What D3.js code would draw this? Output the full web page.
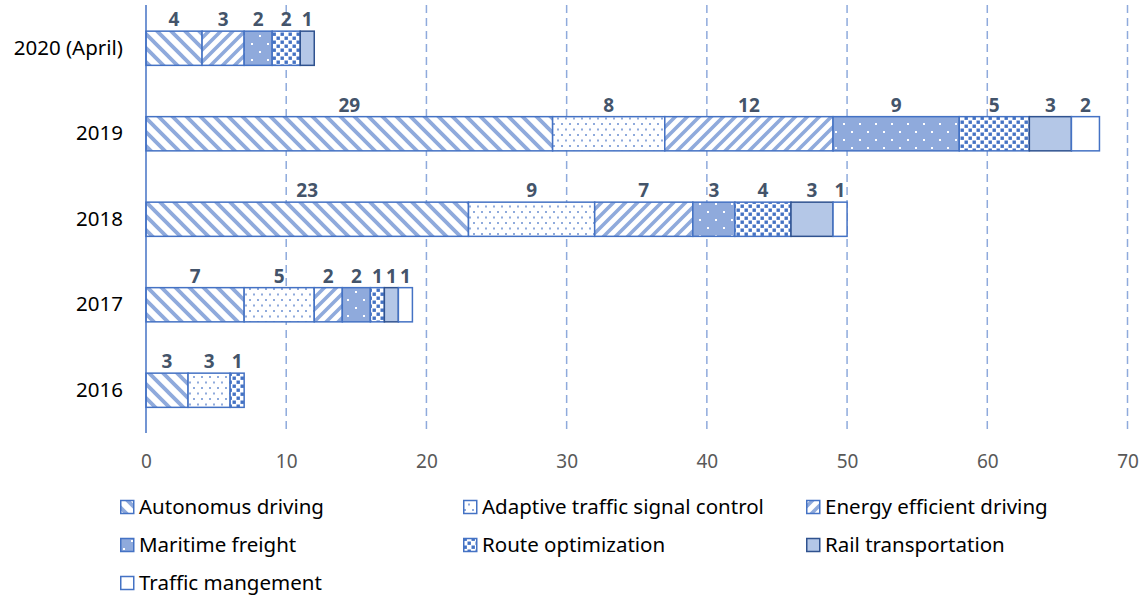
<!DOCTYPE html>
<html>
<head>
<meta charset="utf-8">
<script src="https://cdn.jsdelivr.net/npm/d3@7"></script>
<style>
  body { margin: 0; background: #fff; }
  svg { display: block; font-family: "Noto Sans", sans-serif; }
</style>
</head>
<body>
<svg id="chart" width="1145" height="598"></svg>
<script>
// data
var years = ["2020 (April)", "2019", "2018", "2017", "2016"];
var seriesNames = ["Autonomus driving", "Adaptive traffic signal control", "Energy efficient driving",
  "Maritime freight", "Route optimization", "Rail transportation", "Traffic mangement"];
var autonomus = [4, 29, 23, 7, 3];
var adaptive = [0, 8, 9, 5, 3];
var energy = [3, 12, 7, 2, 0];
var maritime = [2, 9, 3, 2, 0];
var route = [2, 5, 4, 1, 1];
var rail = [1, 3, 3, 1, 0];
var traffic = [0, 2, 1, 1, 0];
var xTicks = [0, 10, 20, 30, 40, 50, 60, 70];

var allSeries = [autonomus, adaptive, energy, maritime, route, rail, traffic];
var keys = ["s0", "s1", "s2", "s3", "s4", "s5", "s6"];

var rows = years.map(function(y, i) {
  var r = { year: y };
  keys.forEach(function(k, j) { r[k] = allSeries[j][i]; });
  return r;
});

var blue = '#4472C4';
var lightBlue = '#8FAADC';
var svg = d3.select('#chart');

// patterns
var defs = svg.append('defs');

var p0 = defs.append('pattern').attr('id', 'pat0').attr('patternUnits', 'userSpaceOnUse')
  .attr('width', 14).attr('height', 14);
p0.append('rect').attr('width', 14).attr('height', 14).attr('fill', '#fff');
p0.append('path').attr('d', 'M-3.5,-3.5L17.5,17.5M-3.5,10.5L3.5,17.5M10.5,-3.5L17.5,3.5')
  .attr('stroke', lightBlue).attr('stroke-width', 3.8);

var p1 = defs.append('pattern').attr('id', 'pat1').attr('patternUnits', 'userSpaceOnUse')
  .attr('width', 8).attr('height', 11);
p1.append('rect').attr('width', 8).attr('height', 11).attr('fill', '#fff');
p1.append('rect').attr('x', 1).attr('y', 2).attr('width', 2).attr('height', 2).attr('fill', lightBlue);
p1.append('rect').attr('x', 5).attr('y', 7.5).attr('width', 2).attr('height', 2).attr('fill', lightBlue);

var p2 = defs.append('pattern').attr('id', 'pat2').attr('patternUnits', 'userSpaceOnUse')
  .attr('width', 12).attr('height', 12);
p2.append('rect').attr('width', 12).attr('height', 12).attr('fill', '#fff');
p2.append('path').attr('d', 'M-3,15L15,-3M-3,3L3,-3M9,15L15,9')
  .attr('stroke', lightBlue).attr('stroke-width', 3.6);

var p3 = defs.append('pattern').attr('id', 'pat3').attr('patternUnits', 'userSpaceOnUse')
  .attr('width', 16).attr('height', 16);
p3.append('rect').attr('width', 16).attr('height', 16).attr('fill', lightBlue);
p3.append('rect').attr('x', 3).attr('y', 3).attr('width', 2).attr('height', 2).attr('fill', '#fff');
p3.append('rect').attr('x', 11).attr('y', 11).attr('width', 2).attr('height', 2).attr('fill', '#fff');

var p4 = defs.append('pattern').attr('id', 'pat4').attr('patternUnits', 'userSpaceOnUse')
  .attr('width', 8).attr('height', 8);
p4.append('rect').attr('width', 8).attr('height', 8).attr('fill', '#fff');
p4.append('rect').attr('x', 0.5).attr('y', 0.5).attr('width', 3.4).attr('height', 3.4).attr('fill', blue);
p4.append('rect').attr('x', 4.5).attr('y', 4.5).attr('width', 3.4).attr('height', 3.4).attr('fill', blue);

var fills = ['url(#pat0)', 'url(#pat1)', 'url(#pat2)', 'url(#pat3)', 'url(#pat4)', '#B4C7E7', '#fff'];
var strokes = [blue, blue, blue, blue, blue, '#2F528F', blue];

// scales
var x = d3.scaleLinear().domain([0, 70]).range([146, 1127.5]);
var y = d3.scaleBand().domain(years).range([5.5, 433]).paddingInner(0.6).paddingOuter(0.3);

// gridlines
svg.append('g').selectAll('line')
  .data(xTicks.slice(1))
  .enter().append('line')
  .attr('x1', function(d) { return x(d); })
  .attr('x2', function(d) { return x(d); })
  .attr('y1', 5).attr('y2', 433)
  .attr('stroke', lightBlue).attr('stroke-width', 1.5)
  .attr('stroke-dasharray', '8,5');

// x tick labels
var xAxis = d3.axisBottom(x).tickValues(xTicks).tickSize(0).tickPadding(0);
var gx = svg.append('g').attr('transform', 'translate(0,454)').call(xAxis);
gx.select('.domain').remove();
gx.selectAll('text').attr('fill', '#595959').style('font-size', '19px')
  .style('font-family', '"Noto Sans", sans-serif');

// y labels
var yAxis = d3.axisLeft(y).tickSize(0).tickPadding(23);
var gy = svg.append('g').attr('transform', 'translate(146,0)').call(yAxis);
gy.select('.domain').remove();
gy.selectAll('text').attr('fill', '#000').style('font-size', '20.5px')
  .style('font-family', '"Noto Sans", sans-serif');

// stacked bars
var stacked = d3.stack().keys(keys)(rows);

var layers = svg.append('g').selectAll('g')
  .data(stacked)
  .enter().append('g');

layers.selectAll('rect')
  .data(function(d) { return d.filter(function(s) { return s[1] - s[0] > 0; }); })
  .enter().append('rect')
  .attr('x', function(d) { return x(d[0]); })
  .attr('y', function(d) { return y(d.data.year); })
  .attr('width', function(d) { return x(d[1]) - x(d[0]); })
  .attr('height', y.bandwidth())
  .attr('fill', function() { return fills[d3.select(this.parentNode).datum().index]; })
  .attr('stroke', function() { return strokes[d3.select(this.parentNode).datum().index]; })
  .attr('stroke-width', 1.5);

// value labels
layers.selectAll('text')
  .data(function(d) { return d.filter(function(s) { return s[1] - s[0] > 0; }); })
  .enter().append('text')
  .attr('x', function(d) { return (x(d[0]) + x(d[1])) / 2; })
  .attr('y', function(d) { return y(d.data.year) - 5; })
  .attr('text-anchor', 'middle')
  .attr('fill', '#44546A')
  .style('font-size', '19px')
  .style('font-weight', 'bold')
  .text(function(d) { return d[1] - d[0]; });

// vertical axis line
svg.append('line')
  .attr('x1', 146).attr('x2', 146).attr('y1', 5).attr('y2', 433)
  .attr('stroke', blue).attr('stroke-width', 1.5);

// legend
var legX = [120, 463, 806];
var legY = [507, 545, 583];
var legend = svg.append('g').selectAll('g')
  .data(seriesNames)
  .enter().append('g')
  .attr('transform', function(d, i) {
    return 'translate(' + [legX[i % 3], legY[Math.floor(i / 3)]] + ')';
  });

legend.append('rect')
  .attr('x', 0.75).attr('y', -6.5)
  .attr('width', 13).attr('height', 13)
  .attr('fill', function(d, i) { return fills[i]; })
  .attr('stroke', function(d, i) { return strokes[i]; })
  .attr('stroke-width', 1.5);

legend.append('text')
  .attr('x', 19)
  .attr('dy', '0.35em')
  .attr('fill', '#000')
  .style('font-size', '20.5px')
  .text(function(d) { return d; });
</script>
</body>
</html>
